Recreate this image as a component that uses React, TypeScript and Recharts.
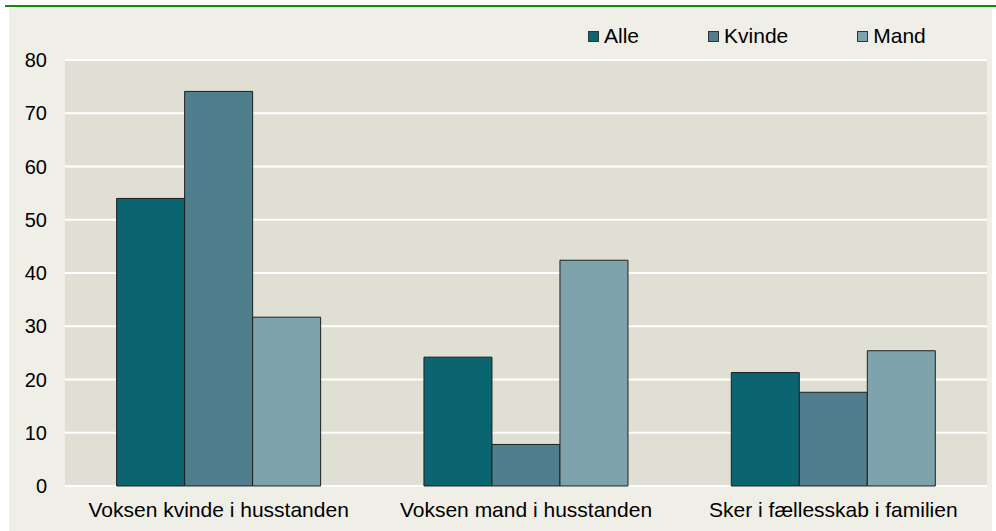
import { Bar, BarChart, CartesianGrid, Legend, XAxis, YAxis } from "recharts"

const categories = ["Voksen kvinde i husstanden", "Voksen mand i husstanden", "Sker i fællesskab i familien"]
const alle = [54, 24.2, 21.3]
const kvinde = [74.1, 7.8, 17.6]
const mand = [31.7, 42.4, 25.4]
const yTicks = [0, 10, 20, 30, 40, 50, 60, 70, 80]

const data = categories.map((name, i) => ({ name, alle: alle[i], kvinde: kvinde[i], mand: mand[i] }))

const font = "'Liberation Sans', Arial, sans-serif"

function LegendRow(props: any) {
  const items = props.payload || []
  return (
    <div style={{ display: "flex", alignItems: "center", fontFamily: font, fontSize: 21, color: "#000" }}>
      {items.map((item: any) => (
        <div key={item.value} style={{ display: "flex", alignItems: "center", marginRight: 69 }}>
          <span
            style={{
              width: 9,
              height: 9,
              background: item.color,
              border: "1px solid #333",
              marginRight: 5,
              display: "inline-block",
            }}
          />
          <span>{item.value}</span>
        </div>
      ))}
    </div>
  )
}

export default function App() {
  return (
    <div style={{ position: "relative", width: 996, height: 531, background: "#fff", overflow: "hidden" }}>
      <style>{`body{margin:0}`}</style>
      <div style={{ position: "absolute", left: 9, top: 7, width: 983, height: 524, background: "#efeee7" }} />
      <div style={{ position: "absolute", left: 5, top: 5, width: 991, height: 2, background: "#108a10" }} />
      <BarChart
        width={996}
        height={531}
        data={data}
        margin={{ top: 60, right: 9, left: 0, bottom: 0 }}
        barCategoryGap="16.8%"
        barGap={0}
        style={{ position: "absolute", left: 0, top: 0 }}
      >
        <CartesianGrid vertical={false} fill="#e0dfd4" stroke="#ffffff" strokeWidth={2} />
        <XAxis
          dataKey="name"
          height={45}
          axisLine={false}
          tickLine={false}
          tickSize={0}
          tickMargin={16}
          tick={{ fill: "#000", fontSize: 21, fontFamily: font }}
          interval={0}
        />
        <YAxis
          width={65}
          domain={[0, 80]}
          ticks={yTicks}
          axisLine={false}
          tickLine={false}
          tickSize={0}
          tickMargin={18}
          tick={{ fill: "#000", fontSize: 20, fontFamily: font }}
        />
        <Legend
          verticalAlign="middle"
          align="center"
          content={<LegendRow />}
          wrapperStyle={{ top: 24, left: 588, width: 400, height: 25 }}
        />
        <Bar dataKey="alle" name="Alle" fill="#0a6570" stroke="#1e1e1e" strokeWidth={1} isAnimationActive={false} />
        <Bar dataKey="kvinde" name="Kvinde" fill="#4f7f8c" stroke="#1e1e1e" strokeWidth={1} isAnimationActive={false} />
        <Bar dataKey="mand" name="Mand" fill="#7fa3ac" stroke="#1e1e1e" strokeWidth={1} isAnimationActive={false} />
      </BarChart>
    </div>
  )
}
